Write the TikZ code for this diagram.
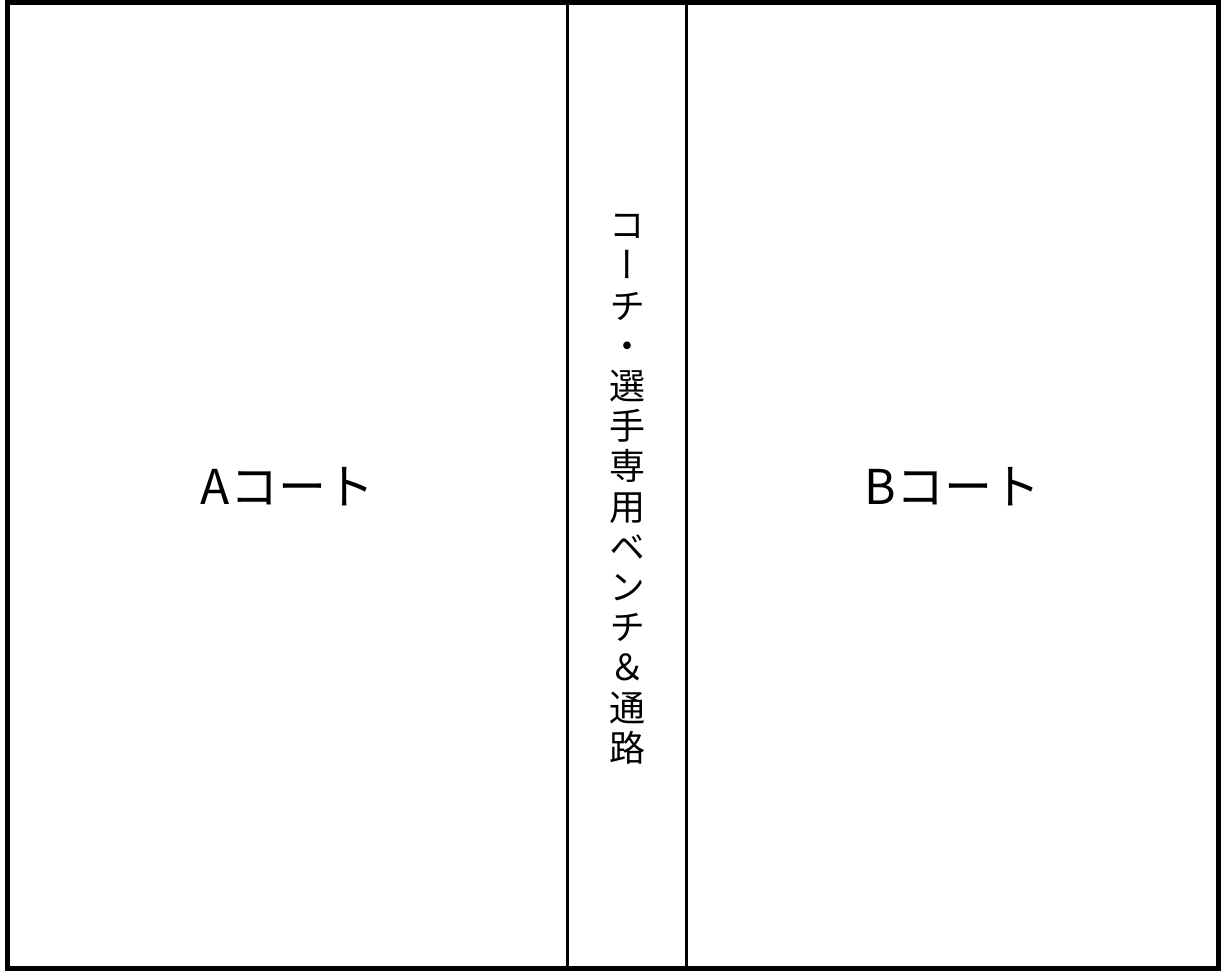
\documentclass[tikz,border=0pt]{standalone}
\usepackage{fontspec}
\setmainfont{Noto Sans CJK JP}
\newfontfamily\tatefont[RawFeature=+vert]{Noto Sans CJK JP}
\usetikzlibrary{positioning}

\begin{document}
\begin{tikzpicture}[x=1pt,y=1pt,
  wall/.style={line width=5pt},
  divider/.style={line width=3pt},
  courtlabel/.style={anchor=base,inner sep=0pt,font=\fontsize{48}{48}\selectfont},
  benchchar/.style={anchor=base,inner sep=0pt,font=\tatefont\fontsize{36}{36}\selectfont}]
\useasboundingbox (0,0) rectangle (1221,970);
\draw[wall] (7.5,2) rectangle (1218.5,967.5);
\draw[divider] (567.5,2) -- (567.5,967.5);
\draw[divider] (686.5,2) -- (686.5,967.5);
\node[courtlabel] (courtA) at (287.5,465) {Aコート};
\node[courtlabel] (courtB) at (952.5,465) {Bコート};
\foreach \ch [count=\i from 0] in {コ,ー,チ,・,選,手,専,用,ベ,ン,チ,＆,通,路}
  \node[benchchar] (bench\i) at (627,{731.3-40.2*\i}) {\ch};
\end{tikzpicture}
\end{document}
